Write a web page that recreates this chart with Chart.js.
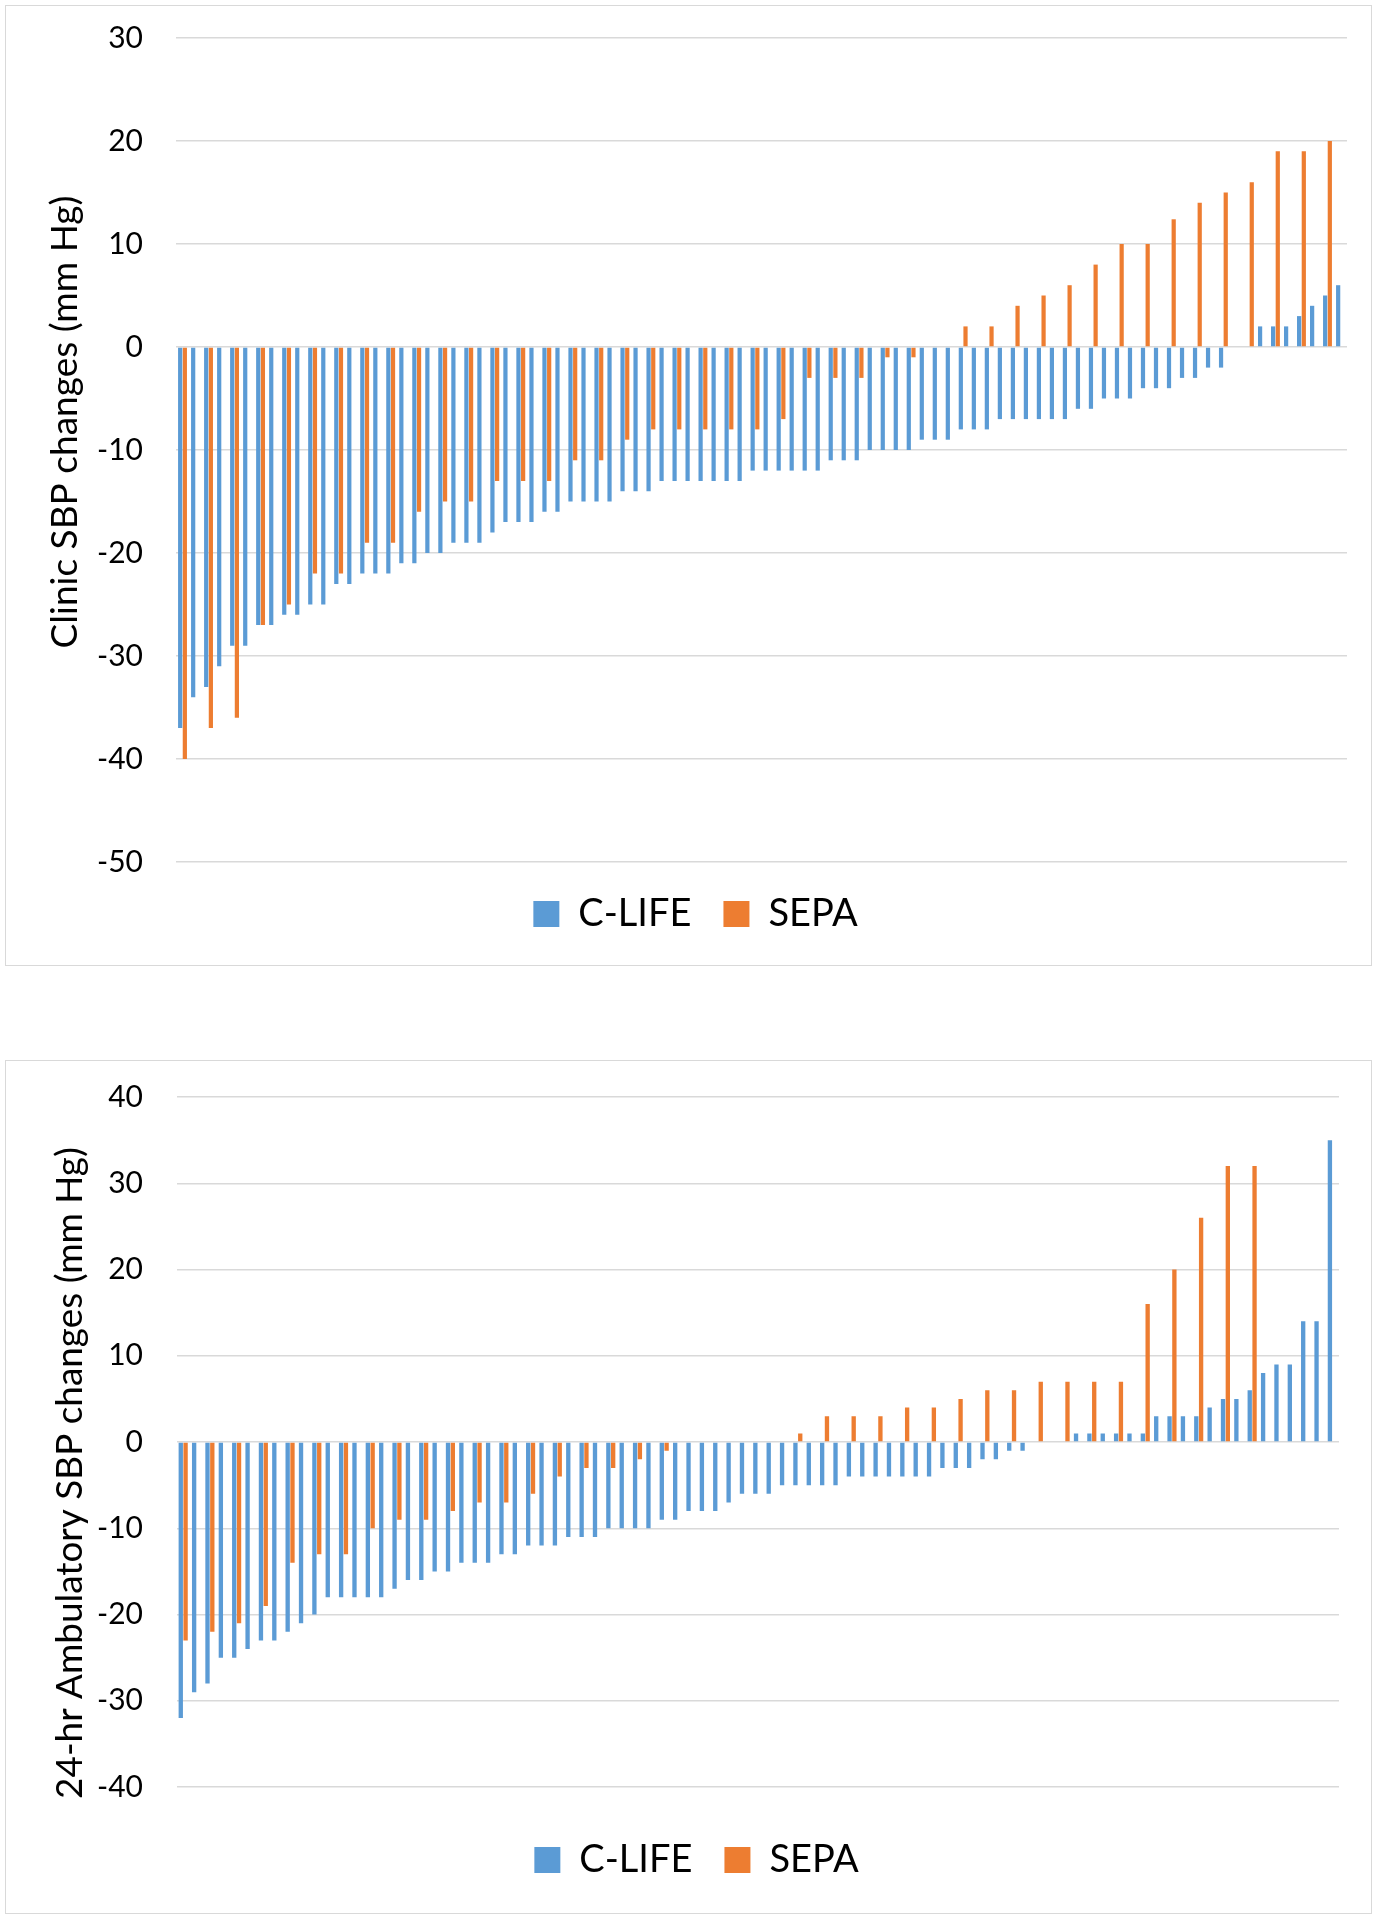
<!DOCTYPE html>
<html><head><meta charset="utf-8">
<script src="https://cdn.jsdelivr.net/npm/chart.js@4.4.1/dist/chart.umd.min.js"></script>
<style>
html,body{margin:0;padding:0;background:#fff;}
body{width:1377px;height:1920px;position:relative;overflow:hidden;}
.box{position:absolute;left:5px;width:1367px;box-sizing:border-box;border:1px solid #d9d9d9;background:#fff;}
#box1{top:5px;height:961px;}
#box2{top:1060px;height:854px;}
canvas{display:block;}
</style></head><body>
<div class="box" id="box1"><canvas id="c1" width="1365" height="959"></canvas></div>
<div class="box" id="box2"><canvas id="c2" width="1365" height="852"></canvas></div>
<script>
// ---------- DATA ----------
const seriesNames = ['C-LIFE', 'SEPA'];

// Chart 1: Clinic SBP changes (mm Hg), participants sorted
const clinicCLIFE = [
  -37,-34,-33,-31,-29,-29,-27,-27,-26,-26,
  -25,-25,-23,-23,-22,-22,-22,-21,-21,-20,
  -20,-19,-19,-19,-18,-17,-17,-17,-16,-16,
  -15,-15,-15,-15,-14,-14,-14,-13,-13,-13,
  -13,-13,-13,-13,-12,-12,-12,-12,-12,-12,
  -11,-11,-11,-10,-10,-10,-10,-9,-9,-9,
  -8,-8,-8,-7,-7,-7,-7,-7,-7,-6,
  -6,-5,-5,-5,-4,-4,-4,-3,-3,-2,
  -2,0,0,2,2,2,3,4,5,6
];
const clinicSEPA = [
  -40,null,-37,null,-36,null,-27,null,-25,null,
  -22,null,-22,null,-19,null,-19,null,-16,null,
  -15,null,-15,null,-13,null,-13,null,-13,null,
  -11,null,-11,null,-9,null,-8,null,-8,null,
  -8,null,-8,null,-8,null,-7,null,-3,null,
  -3,null,-3,null,-1,null,-1,null,0,null,
  2,null,2,null,4,null,5,null,6,null,
  8,null,10,null,10,null,12.4,null,14,null,
  15,null,16,null,19,null,19,null,20,null
];
const clinicTicks = [30,20,10,0,-10,-20,-30,-40,-50];
const clinicTitle = 'Clinic SBP changes (mm Hg)';

// Chart 2: 24-hr ambulatory SBP changes (mm Hg)
const ambCLIFE = [
  -32,-29,-28,-25,-25,-24,-23,-23,-22,-21,
  -20,-18,-18,-18,-18,-18,-17,-16,-16,-15,
  -15,-14,-14,-14,-13,-13,-12,-12,-12,-11,
  -11,-11,-10,-10,-10,-10,-9,-9,-8,-8,
  -8,-7,-6,-6,-6,-5,-5,-5,-5,-5,
  -4,-4,-4,-4,-4,-4,-4,-3,-3,-3,
  -2,-2,-1,-1,0,0,0,1,1,1,
  1,1,1,3,3,3,3,4,5,5,
  6,8,9,9,14,14,35
];
const ambSEPA = [
  -23,null,-22,null,-21,null,-19,null,-14,null,
  -13,null,-13,null,-10,null,-9,null,-9,null,
  -8,null,-7,null,-7,null,-6,null,-4,null,
  -3,null,-3,null,-2,null,-1,null,0,null,
  0,null,0,null,0,null,1,null,3,null,
  3,null,3,null,4,null,4,null,5,null,
  6,null,6,null,7,null,7,null,7,null,
  7,null,16,null,20,null,26,null,32,null,
  32,null,null,null,null,null,null
];
const ambTicks = [40,30,20,10,0,-10,-20,-30,-40];
const ambTitle = '24-hr Ambulatory SBP changes (mm Hg)';

const clinicCategories = clinicCLIFE.map((_, i) => String(i + 1));
const ambCategories = ambCLIFE.map((_, i) => String(i + 1));

// ---------- STYLE ----------
const BLUE = '#5B9BD5';
const ORANGE = '#ED7D31';
const FONT = 'Lato, "Open Sans", sans-serif';

const axisTitlePlugin = {
  id: 'axisTitle',
  afterDraw(chart, args, o) {
    const ctx = chart.ctx;
    ctx.save();
    ctx.font = '100px ' + FONT;
    const w = ctx.measureText(o.text).width;
    const size = 100 * o.length / w;
    ctx.font = size.toFixed(2) + 'px ' + FONT;
    ctx.translate(o.x, o.y);
    ctx.rotate(-Math.PI / 2);
    ctx.fillStyle = '#000';
    ctx.textAlign = 'center';
    ctx.textBaseline = 'middle';
    ctx.fillText(o.text, 0, 0);
    ctx.restore();
  }
};

function makeChart(id, cats, clife, sepa, ticks, title, g) {
  return new Chart(document.getElementById(id), {
    type: 'bar',
    data: {
      labels: cats,
      datasets: [
        { label: seriesNames[0], data: clife, backgroundColor: BLUE, borderWidth: 0,
          categoryPercentage: 0.72, barPercentage: 0.9 },
        { label: seriesNames[1], data: sepa, backgroundColor: ORANGE, borderWidth: 0,
          categoryPercentage: 0.72, barPercentage: 0.9 }
      ]
    },
    options: {
      responsive: false,
      animation: false,
      devicePixelRatio: 1,
      layout: { padding: g.padding },
      scales: {
        x: {
          display: true,
          ticks: { display: false },
          grid: { display: false, drawTicks: false },
          border: { display: false },
          afterFit(s) { s.height = g.xHeight; }
        },
        y: {
          min: Math.min(...ticks),
          max: Math.max(...ticks),
          afterBuildTicks(s) { s.ticks = ticks.slice().reverse().map(v => ({ value: v })); },
          afterFit(s) { s.width = g.yWidth; s.paddingTop = 0; s.paddingBottom = 0; },
          ticks: { color: '#000', padding: g.tickPad, font: { family: FONT, size: 30 } },
          grid: { color: '#d9d9d9', lineWidth: 1.5, drawTicks: false },
          border: { display: false }
        }
      },
      plugins: {
        legend: {
          position: 'bottom',
          labels: { color: '#000', boxWidth: 26, boxHeight: 26, padding: 32,
                    font: { family: FONT, size: 38 } }
        },
        tooltip: { enabled: false },
        axisTitle: { text: title, x: g.titleX, y: g.titleY, length: g.titleLen }
      }
    },
    plugins: [axisTitlePlugin]
  });
}

makeChart('c1', clinicCategories, clinicCLIFE, clinicSEPA, clinicTicks, clinicTitle, {
  padding: { left: 38, right: 24, top: 32, bottom: 22 },
  yWidth: 132, xHeight: 1, tickPad: 33,
  titleX: 59.5, titleY: 416, titleLen: 453
});
makeChart('c2', ambCategories, ambCLIFE, ambSEPA, ambTicks, ambTitle, {
  padding: { left: 48, right: 32, top: 36, bottom: 24 },
  yWidth: 122.5, xHeight: 22, tickPad: 33.5,
  titleX: 64.5, titleY: 412, titleLen: 652
});
</script></body></html>
